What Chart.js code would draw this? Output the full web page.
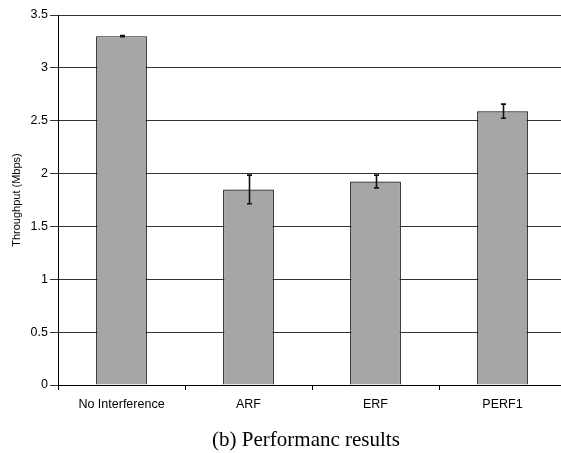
<!DOCTYPE html>
<html>
<head>
<meta charset="utf-8">
<script src="https://cdn.jsdelivr.net/npm/chart.js@4/dist/chart.umd.min.js"></script>
<style>
    html, body { margin: 0; padding: 0; background: #fff; overflow: hidden; }
    #wrap { position: relative; width: 566px; height: 453px; }
    #caption {
        position: absolute; left: 0; width: 612px; top: 427px;
        text-align: center; font-family: 'Liberation Serif', serif; font-size: 21px; color: #000;
        white-space: nowrap;
    }
</style>
</head>
<body>
<div id="wrap">
    <canvas id="chart" width="566" height="453"></canvas>
    <div id="caption">(b) Performanc results</div>
</div>
<script>
// Data
const categories = ['No Interference', 'ARF', 'ERF', 'PERF1'];
const throughput = [3.30, 1.85, 1.925, 2.59];
const errors = [0.005, 0.135, 0.06, 0.067];
const yTicks = [0, 0.5, 1, 1.5, 2, 2.5, 3, 3.5];

// Draws the +/- error whiskers on top of each bar
const errorBars = {
    id: 'errorBars',
    afterDatasetsDraw(chart) {
        const ctx = chart.ctx;
        const yScale = chart.scales.y;
        const meta = chart.getDatasetMeta(0);
        ctx.save();
        ctx.strokeStyle = '#111';
        ctx.lineWidth = 1.6;
        meta.data.forEach((bar, i) => {
            const x = Math.round(bar.x) + 0.5;
            const top = yScale.getPixelForValue(throughput[i] + errors[i]);
            const bottom = yScale.getPixelForValue(throughput[i] - errors[i]);
            ctx.beginPath();
            ctx.moveTo(x, top);
            ctx.lineTo(x, bottom);
            ctx.moveTo(x - 2.5, top);
            ctx.lineTo(x + 2.5, top);
            ctx.moveTo(x - 2.5, bottom);
            ctx.lineTo(x + 2.5, bottom);
            ctx.stroke();
        });
        ctx.restore();
    }
};

const ctx = document.getElementById('chart').getContext('2d');

new Chart(ctx, {
    type: 'bar',
    data: {
        labels: categories,
        datasets: [{
            data: throughput,
            backgroundColor: '#a6a6a6',
            borderColor: '#111',
            borderWidth: 1.2,
            barPercentage: 0.4,
            categoryPercentage: 1.0
        }]
    },
    options: {
        responsive: false,
        animation: false,
        layout: {
            padding: { top: 15, right: 0, bottom: 38, left: 0 }
        },
        scales: {
            x: {
                afterFit: (scale) => { scale.height = 30; },
                grid: {
                    offset: true,
                    drawOnChartArea: false,
                    drawTicks: true,
                    tickLength: 5,
                    color: '#000'
                },
                border: { color: '#000', width: 1 },
                ticks: {
                    color: '#000',
                    padding: 7,
                    font: { family: 'Liberation Sans', size: 12.5 }
                }
            },
            y: {
                min: 0,
                max: 3.5,
                afterFit: (scale) => { scale.width = 58; },
                afterBuildTicks: (scale) => {
                    scale.ticks = yTicks.map(v => ({ value: v }));
                },
                grid: {
                    color: '#333',
                    tickLength: 8,
                    lineWidth: 1
                },
                border: { color: '#000', width: 1 },
                ticks: {
                    color: '#000',
                    padding: 2,
                    font: { family: 'Liberation Sans', size: 12.5 },
                    callback: (value) => String(value)
                },
                title: {
                    display: true,
                    text: 'Throughput (Mbps)',
                    color: '#000',
                    padding: { top: 10, bottom: 0 },
                    font: { family: 'Liberation Sans', size: 11 }
                }
            }
        },
        plugins: {
            legend: { display: false },
            tooltip: { enabled: false }
        }
    },
    plugins: [errorBars]
});
</script>
</body>
</html>
